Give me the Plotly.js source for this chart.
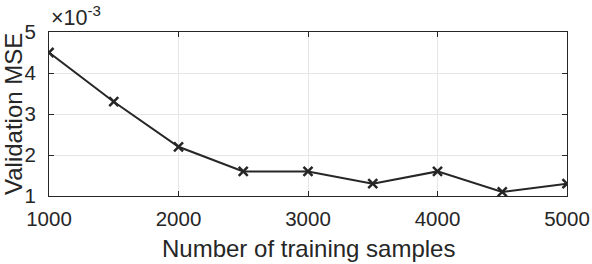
<!DOCTYPE html>
<html>
<head>
<meta charset="utf-8">
<script src="https://cdn.plot.ly/plotly-3.0.1.min.js"></script>
<style>html,body{margin:0;padding:0;background:#fff;}#chart{width:592px;height:264px;}</style>
</head>
<body>
<div id="chart"></div>
<script>
const samples = [1000, 1500, 2000, 2500, 3000, 3500, 4000, 4500, 5000];
const mse = [4.5, 3.3, 2.2, 1.6, 1.6, 1.3, 1.6, 1.1, 1.3]; // ×10^-3
const xTicks = [1000, 2000, 3000, 4000, 5000];
const yTicks = [1, 2, 3, 4, 5];
const xTitle = 'Number of training samples';
const yTitle = 'Validation MSE';
const exponentLabel = '×10<sup>-3</sup>';

const ink = '#262626';
const font = 'Liberation Sans, Arial, Helvetica, sans-serif';

const trace = {
  x: samples, y: mse, type: 'scatter', mode: 'lines+markers',
  line: {color: ink, width: 2},
  marker: {symbol: 'x-thin', size: 9, color: ink, line: {color: ink, width: 2.5}},
  hoverinfo: 'skip'
};

const axisCommon = {
  showline: true, linecolor: ink, linewidth: 1, mirror: 'ticks',
  ticks: 'inside', ticklen: 5, tickcolor: ink, tickwidth: 1,
  showgrid: true, gridcolor: '#e6e6e6', gridwidth: 1, zeroline: false,
  tickfont: {family: font, size: 20.5, color: ink},
  fixedrange: true
};

const layout = {
  width: 592, height: 264,
  margin: {l: 49, r: 25, t: 32, b: 68},
  paper_bgcolor: '#fff', plot_bgcolor: '#fff',
  showlegend: false,
  xaxis: Object.assign({}, axisCommon, {
    range: [1000, 5000], tickvals: xTicks, ticktext: xTicks.map(String),
    automargin: false, ticklabelstandoff: 4
  }),
  yaxis: Object.assign({}, axisCommon, {
    range: [1, 5], tickvals: yTicks, ticktext: yTicks.map(String),
    automargin: false, ticklabelstandoff: 8
  }),
  annotations: [
    {
      xref: 'paper', yref: 'paper', x: 0, y: 1, xanchor: 'left', yanchor: 'bottom',
      text: exponentLabel, showarrow: false,
      font: {family: font, size: 21.5, color: ink}
    },
    {
      xref: 'paper', yref: 'paper', x: 0.5, y: 0, xanchor: 'center', yanchor: 'middle',
      yshift: -52, text: xTitle, showarrow: false,
      font: {family: font, size: 24, color: ink}
    },
    {
      xref: 'paper', yref: 'paper', x: 0, y: 0.5, xanchor: 'center', yanchor: 'middle',
      xshift: -36, textangle: -90, text: yTitle, showarrow: false,
      font: {family: font, size: 24, color: ink}
    }
  ]
};

Plotly.newPlot('chart', [trace], layout, {staticPlot: true, displayModeBar: false});
</script>
</body>
</html>
